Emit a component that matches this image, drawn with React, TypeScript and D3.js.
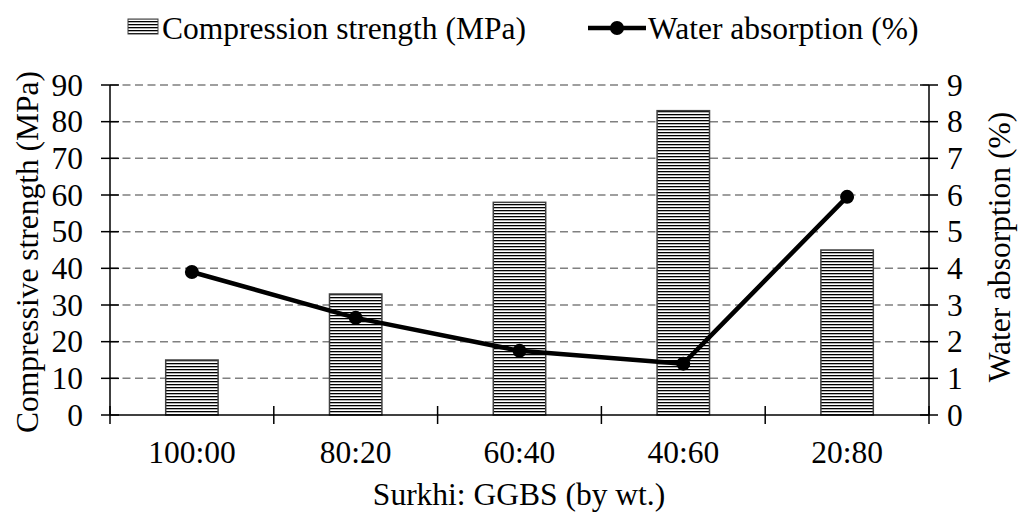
import React from "react";
import * as d3 from "d3";

const categories = ["100:00", "80:20", "60:40", "40:60", "20:80"];
const compressionStrength = [15, 33, 58, 83, 45];
const waterAbsorption = [3.9, 2.65, 1.75, 1.4, 5.95];
const leftTicks = [0, 10, 20, 30, 40, 50, 60, 70, 80, 90];
const rightTicks = [0, 1, 2, 3, 4, 5, 6, 7, 8, 9];

const W = 1018;
const H = 512;
const m = { left: 110, right: 929, top: 85, bottom: 415 };
const FONT = "Liberation Serif";
const FS = 31.5;

export default function App() {
  const x = d3.scaleBand<string>().domain(categories).range([m.left, m.right]).paddingInner(0).paddingOuter(0);
  const yL = d3.scaleLinear().domain([0, 90]).range([m.bottom, m.top]);
  const yR = d3.scaleLinear().domain([0, 9]).range([m.bottom, m.top]);
  const barW = x.bandwidth() * 0.32;
  const cx = (c: string) => (x(c) as number) + x.bandwidth() / 2;

  const line = d3
    .line<number>()
    .x((_, i) => cx(categories[i]))
    .y((d) => yR(d));

  const boundaries = d3.range(categories.length + 1).map((i) => m.left + i * x.bandwidth());

  return (
    <svg width={W} height={H} style={{ position: "absolute", left: 0, top: 0, background: "#fff" }}>
      <defs>
        <pattern id="hstripe" patternUnits="userSpaceOnUse" width="6" height="3">
          <rect width="6" height="3" fill="#fff" />
          <rect y="0" width="6" height="1.3" fill="#000" />
        </pattern>
      </defs>

      {/* gridlines */}
      {leftTicks.slice(1).map((t) => (
        <line key={"g" + t} x1={m.left} x2={m.right} y1={yL(t)} y2={yL(t)} stroke="#808080" strokeWidth={1.5} strokeDasharray="8 4.5" />
      ))}

      {/* bars */}
      {compressionStrength.map((v, i) => (
        <rect
          key={"b" + i}
          x={cx(categories[i]) - barW / 2}
          y={yL(v)}
          width={barW}
          height={yL(0) - yL(v)}
          fill="url(#hstripe)"
          stroke="#404040"
          strokeWidth={1.5}
        />
      ))}

      {/* axes */}
      <line x1={m.left} x2={m.right} y1={m.bottom} y2={m.bottom} stroke="#000" strokeWidth={1.5} />
      <line x1={m.left} x2={m.left} y1={m.top} y2={m.bottom} stroke="#000" strokeWidth={1.5} />
      <line x1={m.right} x2={m.right} y1={m.top} y2={m.bottom} stroke="#000" strokeWidth={1.5} />

      {leftTicks.map((t) => (
        <g key={"l" + t}>
          <line x1={m.left - 9} x2={m.left + 9} y1={yL(t)} y2={yL(t)} stroke="#000" strokeWidth={1.5} />
          <text x={m.left - 27} y={yL(t)} dy="0.34em" textAnchor="end" fontSize={FS} fontFamily={FONT}>
            {t}
          </text>
        </g>
      ))}
      {rightTicks.map((t) => (
        <g key={"r" + t}>
          <line x1={m.right - 9} x2={m.right + 9} y1={yR(t)} y2={yR(t)} stroke="#000" strokeWidth={1.5} />
          <text x={m.right + 18} y={yR(t)} dy="0.34em" textAnchor="start" fontSize={FS} fontFamily={FONT}>
            {t}
          </text>
        </g>
      ))}
      {boundaries.map((bx, i) => (
        <line key={"xt" + i} x1={bx} x2={bx} y1={m.bottom - 9} y2={m.bottom + 9} stroke="#000" strokeWidth={1.5} />
      ))}
      {categories.map((c) => (
        <text key={"c" + c} x={cx(c)} y={463} textAnchor="middle" fontSize={FS} fontFamily={FONT}>
          {c}
        </text>
      ))}

      {/* line series */}
      <path d={line(waterAbsorption) || ""} fill="none" stroke="#000" strokeWidth={4.5} strokeLinejoin="round" />
      {waterAbsorption.map((v, i) => (
        <circle key={"p" + i} cx={cx(categories[i])} cy={yR(v)} r={7} fill="#000" />
      ))}

      {/* axis titles */}
      <text x={519} y={505} textAnchor="middle" fontSize={FS} fontFamily={FONT}>
        Surkhi: GGBS (by wt.)
      </text>
      <text transform={`translate(38, 252) rotate(-90)`} textAnchor="middle" fontSize={FS} fontFamily={FONT}>
        Compressive strength (MPa)
      </text>
      <text transform={`translate(1010, 247) rotate(-90)`} textAnchor="middle" fontSize={FS} fontFamily={FONT}>
        Water absorption (%)
      </text>

      {/* legend */}
      <rect x={128} y={19} width={30} height={15} fill="url(#hstripe)" stroke="#404040" strokeWidth={1} />
      <text x={162} y={39} fontSize={FS} fontFamily={FONT}>
        Compression strength (MPa)
      </text>
      <line x1={588} x2={646} y1={28} y2={28} stroke="#000" strokeWidth={4.5} />
      <circle cx={617} cy={28} r={7} fill="#000" />
      <text x={648} y={39} fontSize={FS} fontFamily={FONT}>
        Water absorption (%)
      </text>
    </svg>
  );
}
